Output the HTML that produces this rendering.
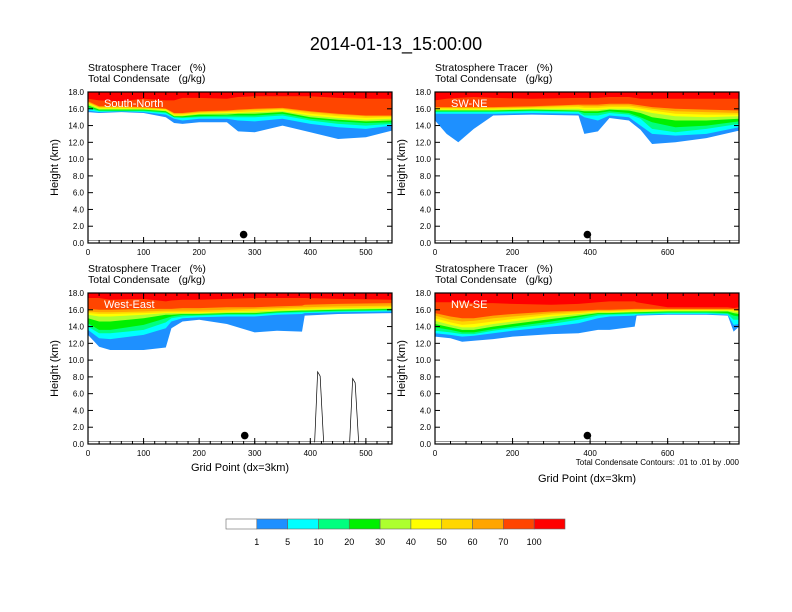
<!DOCTYPE html>
<html><head><meta charset="utf-8"><style>
body{margin:0;background:#fff;}
svg{display:block;font-family:"Liberation Sans",sans-serif;}
svg text{white-space:pre;}
</style></head><body>
<svg id="fig" width="792" height="612" viewBox="0 0 792 612" xmlns="http://www.w3.org/2000/svg">
<text x="396" y="50" font-size="18" text-anchor="middle">2014-01-13_15:00:00</text>
</svg>
<script>
const levelColors=["#1E90FF","#00FFFF","#00FF7F","#00F000","#ADFF2F","#FFFF00","#FFD700","#FFA500","#FF4500","#FF0000"];
const levelNames=["blue","cyan","springgreen","green","yellowgreen","yellow","gold","orange","orangered","red"];
const colorbarLabels=["1","5","10","20","30","40","50","60","70","100"];
const yTicks=[0,2,4,6,8,10,12,14,16,18];

const p1X=[0,20,60,100,140,155,170,200,250,270,300,350,400,450,500,547];
const p1Blue=[15.6,15.5,15.6,15.5,15.0,14.3,14.2,14.4,14.4,13.3,13.2,14.0,13.2,12.4,12.6,13.4];
const p1Cyan=[15.8,15.6,15.7,15.6,15.3,14.8,14.6,14.8,14.8,14.6,14.5,14.8,14.2,13.8,13.6,14.0];
const p1Spring=[16.0,15.7,15.7,15.7,15.5,15.0,14.9,15.0,15.0,15.0,15.0,15.2,14.6,14.2,14.0,14.2];
const p1Green=[16.2,15.8,15.8,15.8,15.6,15.0,15.0,15.1,15.2,15.2,15.2,15.4,14.8,14.5,14.3,14.4];
const p1YG=[16.4,15.9,15.9,15.9,15.7,15.1,15.1,15.3,15.3,15.4,15.4,15.6,15.0,14.7,14.5,14.6];
const p1Yellow=[16.6,16.0,16.0,16.0,15.8,15.2,15.2,15.4,15.5,15.5,15.6,15.7,15.2,14.9,14.7,14.8];
const p1Gold=[16.7,16.1,16.1,16.0,15.9,15.3,15.3,15.5,15.6,15.6,15.7,15.9,15.4,15.1,14.9,15.0];
const p1Orange=[16.8,16.2,16.2,16.1,16.0,15.4,15.4,15.6,15.7,15.8,15.9,16.0,15.6,15.3,15.1,15.1];
const p1OrangeRed=[16.9,16.3,16.3,16.2,16.0,15.5,15.5,15.7,15.8,15.9,16.0,16.1,15.7,15.4,15.2,15.2];
const p1Red=[17.2,17.0,16.9,17.2,17.0,17.0,17.3,17.3,17.2,17.4,17.5,17.5,17.5,17.3,17.2,17.2];

const p2X=[0,30,60,100,150,250,370,385,420,450,500,530,560,620,700,784];
const p2Blue=[14.6,13.0,12.0,13.6,15.2,15.3,15.2,13.0,13.3,14.9,14.6,13.5,11.8,12.0,12.5,13.4];
const p2Cyan=[15.4,15.4,15.4,15.4,15.4,15.5,15.4,15.0,14.6,15.2,15.0,14.0,13.0,12.8,13.0,13.8];
const p2Spring=[15.6,15.6,15.6,15.6,15.6,15.7,15.6,15.2,15.2,15.5,15.3,14.8,13.6,13.2,13.6,14.2];
const p2Green=[15.7,15.7,15.7,15.7,15.7,15.8,15.7,15.5,15.5,15.7,15.5,15.0,14.4,13.8,14.0,14.5];
const p2YG=[15.8,15.8,15.8,15.8,15.8,15.9,15.8,15.7,15.7,15.9,15.8,15.5,15.0,14.6,14.6,14.8];
const p2Yellow=[15.9,15.9,15.9,15.9,15.9,16.0,16.0,15.9,15.9,16.0,16.0,15.8,15.5,15.1,15.0,15.1];
const p2Gold=[16.0,16.0,16.0,16.0,16.0,16.1,16.2,16.1,16.1,16.2,16.2,16.0,15.8,15.4,15.3,15.3];
const p2Orange=[16.1,16.1,16.1,16.1,16.1,16.2,16.4,16.3,16.3,16.4,16.4,16.2,16.0,15.7,15.6,15.5];
const p2OrangeRed=[16.2,16.2,16.2,16.2,16.2,16.3,16.5,16.5,16.5,16.6,16.6,16.4,16.2,16.0,15.9,15.8];
const p2Red=[17.0,17.2,17.3,17.4,17.3,17.2,17.3,17.3,17.3,17.4,17.4,17.2,17.2,17.2,17.2,17.2];

const p3X=[0,20,40,100,140,150,170,200,250,300,340,385,390,450,547];
const p3Blue=[13.0,11.6,11.2,11.2,11.5,13.8,14.6,14.8,14.3,13.3,13.5,13.4,15.3,15.5,15.6];
const p3Cyan=[13.6,12.6,12.5,13.0,13.8,14.6,15.0,15.1,15.2,15.2,15.4,15.5,15.6,15.7,15.8];
const p3Spring=[14.0,13.2,13.2,13.6,14.5,15.0,15.2,15.3,15.4,15.4,15.6,15.7,15.7,15.8,15.9];
const p3Green=[14.4,13.6,13.6,14.2,15.0,15.2,15.4,15.4,15.5,15.5,15.7,15.8,15.8,15.9,16.0];
const p3YG=[15.0,14.6,14.6,15.0,15.4,15.4,15.5,15.5,15.6,15.6,15.8,15.9,15.9,16.0,16.1];
const p3Yellow=[15.4,15.2,15.2,15.4,15.6,15.6,15.6,15.6,15.7,15.8,15.9,16.0,16.0,16.1,16.2];
const p3Gold=[15.6,15.5,15.5,15.6,15.7,15.7,15.7,15.7,15.8,15.9,16.0,16.1,16.1,16.2,16.3];
const p3Orange=[15.8,15.7,15.7,15.8,15.9,15.9,15.9,15.9,16.0,16.1,16.2,16.3,16.3,16.4,16.5];
const p3OrangeRed=[16.1,16.0,16.0,16.1,16.1,16.1,16.2,16.2,16.3,16.3,16.4,16.5,16.6,16.7,16.8];
const p3Red=[17.4,17.4,17.2,17.3,17.0,17.1,17.2,17.2,17.3,17.4,17.4,17.4,17.4,17.3,17.2];

const p4X=[0,40,70,100,150,200,300,370,420,450,515,520,600,700,755,770,784];
const p4Blue=[12.8,12.6,12.2,12.3,12.5,12.8,13.1,13.2,13.6,13.6,14.0,15.3,15.4,15.4,15.3,13.4,14.0];
const p4Cyan=[13.2,13.0,12.8,12.9,13.2,13.5,14.0,14.4,15.0,15.2,15.3,15.4,15.5,15.5,15.4,14.2,14.3];
const p4Spring=[13.5,13.3,13.1,13.1,13.5,13.8,14.3,14.8,15.3,15.4,15.5,15.5,15.6,15.6,15.5,14.8,14.8];
const p4Green=[13.9,13.6,13.3,13.3,13.7,14.0,14.6,15.1,15.5,15.5,15.6,15.6,15.7,15.7,15.6,15.3,15.2];
const p4YG=[14.3,13.9,13.6,13.6,14.0,14.3,14.9,15.3,15.6,15.6,15.7,15.7,15.8,15.8,15.8,15.6,15.5];
const p4Yellow=[14.7,14.2,13.9,13.9,14.3,14.6,15.2,15.5,15.7,15.7,15.8,15.8,15.9,15.9,15.9,15.8,15.7];
const p4Gold=[15.0,14.5,14.2,14.3,14.6,14.9,15.4,15.6,15.8,15.8,15.9,15.9,16.0,16.0,16.0,15.9,15.8];
const p4Orange=[15.3,14.8,14.6,14.7,15.0,15.2,15.6,15.8,15.9,15.9,16.0,16.0,16.0,16.0,16.0,16.0,15.9];
const p4OrangeRed=[15.6,15.2,15.0,15.0,15.3,15.5,15.8,15.9,16.0,16.0,16.1,16.1,16.1,16.1,16.1,16.1,16.0];
const p4Red=[16.9,16.9,17.0,16.8,16.8,16.7,16.6,16.7,16.9,17.0,17.0,16.9,16.3,16.3,16.3,16.2,16.3];

const markerX=[280,393,282,393];
const markerY=[1.0,1.0,1.0,1.0];

const NS="http://www.w3.org/2000/svg";
const svg=document.getElementById("fig");
function mk(tag,attrs,parent){const e=document.createElementNS(NS,tag);for(const k in attrs)e.setAttribute(k,attrs[k]);(parent||svg).appendChild(e);return e;}

const panels=[
 {name:"south-north",label:"South-North",x0:88,y0:92,xmax:547,xt:[0,100,200,300,400,500],minor:20,xs:p1X,bands:[p1Blue,p1Cyan,p1Spring,p1Green,p1YG,p1Yellow,p1Gold,p1Orange,p1OrangeRed,p1Red],xtitle:false},
 {name:"sw-ne",label:"SW-NE",x0:435,y0:92,xmax:784,xt:[0,200,400,600],minor:40,xs:p2X,bands:[p2Blue,p2Cyan,p2Spring,p2Green,p2YG,p2Yellow,p2Gold,p2Orange,p2OrangeRed,p2Red],xtitle:false},
 {name:"west-east",label:"West-East",x0:88,y0:293,xmax:547,xt:[0,100,200,300,400,500],minor:20,xs:p3X,bands:[p3Blue,p3Cyan,p3Spring,p3Green,p3YG,p3Yellow,p3Gold,p3Orange,p3OrangeRed,p3Red],xtitle:true},
 {name:"nw-se",label:"NW-SE",x0:435,y0:293,xmax:784,xt:[0,200,400,600],minor:40,xs:p4X,bands:[p4Blue,p4Cyan,p4Spring,p4Green,p4YG,p4Yellow,p4Gold,p4Orange,p4OrangeRed,p4Red],xtitle:true,note:true}
];
const W=304,H=151;

panels.forEach((p,pi)=>{
  const g=mk("g",{});
  
  
  const sx=v=>p.x0+v/p.xmax*W;
  const sy=v=>p.y0+H-v/18*H;
  const clipId="clip"+pi;
  const cp=mk("clipPath",{id:clipId},g);
  mk("rect",{x:p.x0,y:p.y0,width:W,height:H},cp);
  const plot=mk("g",{"clip-path":"url(#"+clipId+")"},g);
  p.bands.forEach((arr,bi)=>{
    let d="M"+sx(p.xs[0])+","+sy(18);
    p.xs.forEach((x,i)=>{d+=" L"+sx(x).toFixed(1)+","+sy(arr[i]).toFixed(1);});
    d+=" L"+sx(p.xs[p.xs.length-1])+","+sy(18)+" Z";
    const path=mk("path",{d:d,fill:levelColors[bi]},plot);
    
    
  });
  const t1=mk("text",{x:p.x0,y:p.y0-21,"font-size":"10.5"},g);t1.textContent="Stratosphere Tracer   (%)";
  
  const t2=mk("text",{x:p.x0,y:p.y0-10,"font-size":"10.5"},g);t2.textContent="Total Condensate   (g/kg)";
  
  const pl=mk("text",{x:p.x0+16,y:p.y0+15,"font-size":"11",fill:"#fff"},g);pl.textContent=p.label;
  
  mk("rect",{x:p.x0,y:p.y0,width:W,height:H,fill:"none",stroke:"#000","stroke-width":"1.2"},g);
  yTicks.forEach(v=>{
    mk("line",{x1:p.x0,x2:p.x0+5,y1:sy(v),y2:sy(v),stroke:"#000"},g);
    mk("line",{x1:p.x0+W,x2:p.x0+W-5,y1:sy(v),y2:sy(v),stroke:"#000"},g);
    const tl=mk("text",{x:p.x0-4,y:sy(v)+3,"font-size":"8","text-anchor":"end"},g);tl.textContent=v.toFixed(1);
    
  });
  for(let v=0;v<=p.xmax;v+=p.minor){
    mk("line",{x1:sx(v),x2:sx(v),y1:p.y0+H,y2:p.y0+H-3,stroke:"#000"},g);
    mk("line",{x1:sx(v),x2:sx(v),y1:p.y0,y2:p.y0+3,stroke:"#000"},g);
  }
  p.xt.forEach(v=>{
    mk("line",{x1:sx(v),x2:sx(v),y1:p.y0+H,y2:p.y0+H-6,stroke:"#000"},g);
    mk("line",{x1:sx(v),x2:sx(v),y1:p.y0,y2:p.y0+6,stroke:"#000"},g);
    const tl=mk("text",{x:sx(v),y:p.y0+H+12,"font-size":"8","text-anchor":"middle"},g);tl.textContent=v;
    
  });
  const yt=mk("text",{x:0,y:0,"font-size":"11","text-anchor":"middle",transform:"translate("+(p.x0-30)+","+(p.y0+H/2)+") rotate(-90)"},g);yt.textContent="Height (km)";
  
  if(p.xtitle){
    const xt=mk("text",{x:p.x0+W/2,y:p.note?482:471,"font-size":"11","text-anchor":"middle"},g);xt.textContent="Grid Point (dx=3km)";
    
  }
  if(p.note){
    const nt=mk("text",{x:p.x0+W,y:p.y0+H+21,"font-size":"8","text-anchor":"end"},g);nt.textContent="Total Condensate Contours: .01 to .01 by .000";
    
  }
  const dot=mk("circle",{cx:sx(markerX[pi]),cy:sy(markerY[pi]),r:3.8,fill:"#000"},g);
  
  mk("line",{x1:p.x0,x2:p.x0+W,y1:sy(0.3),y2:sy(0.3),stroke:"#555","stroke-width":"0.6"},plot);
});

const towers=[[415,8.6],[478,7.8]];
towers.forEach(t=>{
  const p=panels[2];const sx=v=>p.x0+v/p.xmax*W;const sy=v=>p.y0+H-v/18*H;
  const c=mk("path",{d:"M"+(sx(t[0])-4)+","+sy(0.2)+" L"+(sx(t[0])-1)+","+sy(t[1])+" L"+(sx(t[0])+1.5)+","+sy(t[1]-0.5)+" L"+(sx(t[0])+5)+","+sy(0.2),fill:"none",stroke:"#000","stroke-width":"0.7"});
  
});

const cb=mk("g",{});


const cbX=226,cbW=339,cbY=519,cbH=10,nb=11,bw=cbW/nb;
["#FFFFFF"].concat(levelColors).forEach((c,i)=>{
  const r=mk("rect",{x:cbX+i*bw,y:cbY,width:bw,height:cbH,fill:c,stroke:"#666","stroke-width":"0.6"},cb);
  
});
colorbarLabels.forEach((l,i)=>{
  const t=mk("text",{x:cbX+(i+1)*bw,y:545,"font-size":"9","text-anchor":"middle"},cb);t.textContent=l;
  
});
</script>
</body></html>
